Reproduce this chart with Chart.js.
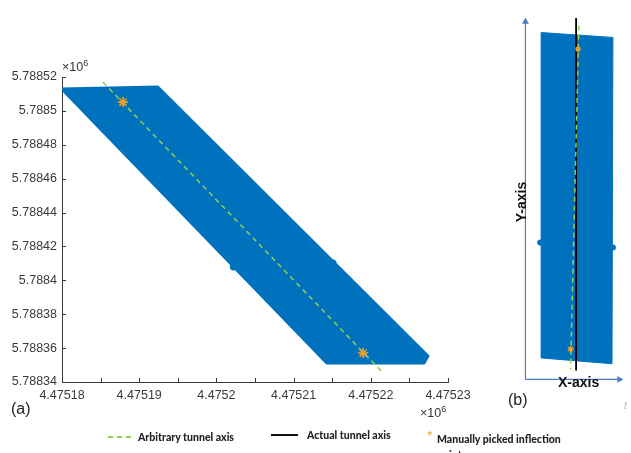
<!DOCTYPE html>
<html>
<head>
<meta charset="utf-8">
<script src="https://cdn.jsdelivr.net/npm/chart.js@4.4.1/dist/chart.umd.min.js"></script>
<style>
html,body{margin:0;padding:0;background:#fff;}
body{width:631px;height:453px;position:relative;overflow:hidden;font-family:"Liberation Sans",Arial,sans-serif;}
canvas{position:absolute;top:0;}
#ca{left:0;}
#cb{left:500px;}
.t{position:absolute;white-space:nowrap;color:#333;}
.lg{position:absolute;white-space:nowrap;font-family:Lato,"Open Sans",sans-serif;font-weight:900;font-size:10.5px;line-height:12px;color:#222;}
</style>
</head>
<body>
<canvas id="ca" width="500" height="453"></canvas>
<canvas id="cb" width="131" height="453"></canvas>

<div class="t" style="left:62px;top:60px;font-size:12.5px;line-height:14px;">×10<span style="font-size:9px;position:relative;top:-5px;">6</span></div>
<div class="t" style="left:420px;top:406px;font-size:12.5px;line-height:14px;">×10<span style="font-size:9px;position:relative;top:-5px;">6</span></div>
<div class="t" style="left:11px;top:400px;font-size:16px;line-height:17px;color:#222;">(a)</div>
<div class="t" style="left:508px;top:391px;font-size:16px;line-height:17px;color:#222;">(b)</div>
<div class="t" style="left:558px;top:375px;font-size:14px;line-height:15px;font-weight:bold;color:#111;">X-axis</div>
<div class="t" style="left:496px;top:194px;width:50px;height:16px;text-align:center;font-size:14px;line-height:16px;font-weight:bold;color:#111;transform:rotate(-90deg);transform-origin:50% 50%;">Y-axis</div>
<div class="t" style="left:624px;top:399px;font-size:11px;line-height:12px;font-style:italic;color:#bbb;">t</div>

<div style="position:absolute;left:108px;top:436px;width:25px;height:2px;background:repeating-linear-gradient(90deg,#8fd14f 0 5px,transparent 5px 9px);"></div>
<div class="lg" style="left:138px;top:431px;">Arbitrary tunnel axis</div>
<div style="position:absolute;left:271px;top:434px;width:27px;height:2px;background:#111;"></div>
<div class="lg" style="left:307px;top:429px;">Actual tunnel axis</div>
<div class="lg" style="left:427px;top:430px;color:#f2b01e;font-size:13px;">*</div>
<div class="lg" style="left:437px;top:431px;width:132px;white-space:normal;line-height:16px;">Manually picked inflection points</div>

<script>
// ---------- panel (a) data ----------
const xTicks = [4475180, 4475185, 4475190, 4475195, 4475200, 4475205, 4475210, 4475215, 4475220, 4475225, 4475230];
const xTickLabels = ['4.47518', '', '4.47519', '', '4.4752', '', '4.47521', '', '4.47522', '', '4.47523'];
const yTicks = [5788340, 5788360, 5788380, 5788400, 5788420, 5788440, 5788460, 5788480, 5788500, 5788520];
const yTickLabels = ['5.78834', '5.78836', '5.78838', '5.7884', '5.78842', '5.78844', '5.78846', '5.78848', '5.7885', '5.78852'];

// outline of the dense point cloud (easting, northing)
const cloudX = [4475180.0, 4475192.4, 4475227.4, 4475226.9, 4475214.3, 4475180.0];
const cloudY = [5788512.9, 5788514.1, 5788355.3, 5788351.2, 5788351.2, 5788512.9];
// small outlying bumps on the cloud edges
const bumpX = [4475202.2, 4475215.1];
const bumpY = [5788407.8, 5788410.2];
// arbitrary tunnel axis (dashed)
const axisX = [4475185.3, 4475221.6];
const axisY = [5788517.0, 5788345.3];
// manually picked inflection points
const inflX = [4475187.9, 4475219.0];
const inflY = [5788505.2, 5788357.1];

// ---------- panel (b) data (local frame, origin at axes corner) ----------
const bCloudX = [17, 95, 94, 17, 17];
const bCloudY = [355, 350, 16, 22, 355];
const bBumpX = [16, 95];
const bBumpY = [140, 135];
const bActualX = [55, 55];
const bActualY = [370, 9];
const bArbX = [58, 49];
const bArbY = [362, 10];
const bInflX = [57, 49];
const bInflY = [338, 31];
const bYArrowX = [0, 0];
const bYArrowY = [0, 366];
const bXArrowX = [0, 102];
const bXArrowY = [0, 0];

const BLUE = '#0072bd';
const GREEN = '#8fd14f';
const STAR = '#f0a02a';
const AXC = '#3a3a3a';

const pts = (xs, ys) => xs.map((x, i) => ({x: x, y: ys[i]}));

const insideTicks = {
  id: 'insideTicks',
  afterDraw(chart) {
    const {ctx, scales: {x, y}} = chart;
    ctx.save();
    ctx.strokeStyle = AXC;
    ctx.lineWidth = 1;
    ctx.beginPath();
    x.ticks.forEach(t => {
      const px = Math.round(x.getPixelForValue(t.value)) + 0.5;
      ctx.moveTo(px, y.bottom);
      ctx.lineTo(px, y.bottom - 4);
    });
    y.ticks.forEach(t => {
      const py = Math.round(y.getPixelForValue(t.value)) + 0.5;
      ctx.moveTo(x.left, py);
      ctx.lineTo(x.left + 4, py);
    });
    ctx.stroke();
    ctx.restore();
  }
};

const tickFont = {family: 'Liberation Sans', size: 12.5};

new Chart(document.getElementById('ca'), {
  type: 'scatter',
  data: {
    datasets: [
      {data: pts(cloudX, cloudY), showLine: true, fill: 'shape', backgroundColor: BLUE, borderColor: BLUE,
       borderWidth: 3, borderJoinStyle: 'round', pointRadius: 0, tension: 0, order: 4},
      {data: pts(bumpX, bumpY), pointRadius: 3.5, backgroundColor: BLUE, borderColor: BLUE, borderWidth: 0, order: 3},
      {data: pts(axisX, axisY), showLine: true, borderColor: GREEN, borderWidth: 1.5, borderDash: [5, 4],
       pointRadius: 0, fill: false, order: 2},
      {data: pts(inflX, inflY), pointStyle: 'star', pointRadius: 5, borderColor: STAR, borderWidth: 1.6,
       backgroundColor: STAR, order: 1}
    ]
  },
  options: {
    responsive: false,
    animation: false,
    events: [],
    layout: {padding: {left: 0, right: 52, top: 77, bottom: 41}},
    plugins: {legend: {display: false}, tooltip: {enabled: false}},
    scales: {
      x: {
        type: 'linear', min: 4475180, max: 4475230,
        afterBuildTicks: s => { s.ticks = xTicks.map(v => ({value: v})); },
        afterFit: s => { s.height = 30; },
        ticks: {autoSkip: false, maxRotation: 0, padding: 6, color: AXC, font: tickFont,
                callback: (v, i) => xTickLabels[i]},
        grid: {display: false, drawTicks: false},
        border: {display: true, color: AXC, width: 1}
      },
      y: {
        type: 'linear', min: 5788340, max: 5788520,
        afterBuildTicks: s => { s.ticks = yTicks.map(v => ({value: v})); },
        afterFit: s => { s.width = 62; },
        ticks: {autoSkip: false, padding: 5, color: AXC, font: tickFont,
                callback: (v, i) => yTickLabels[i]},
        grid: {display: false, drawTicks: false},
        border: {display: true, color: AXC, width: 1}
      }
    }
  },
  plugins: [insideTicks]
});

const ARROW = '#4f7bc4';
new Chart(document.getElementById('cb'), {
  type: 'scatter',
  data: {
    datasets: [
      {data: pts(bYArrowX, bYArrowY), showLine: true, borderColor: ARROW, borderWidth: 1.2,
       pointRadius: [0, 4], pointStyle: 'triangle', backgroundColor: ARROW, pointBorderWidth: 0, order: 7},
      {data: pts(bXArrowX, bXArrowY), showLine: true, borderColor: ARROW, borderWidth: 1.2,
       pointRadius: [0, 4], pointStyle: 'triangle', pointRotation: 90, backgroundColor: ARROW, pointBorderWidth: 0, order: 6},
      {data: pts(bCloudX, bCloudY), showLine: true, fill: 'shape', backgroundColor: BLUE, borderColor: BLUE,
       borderWidth: 1, pointRadius: 0, tension: 0, order: 5},
      {data: pts(bBumpX, bBumpY), pointRadius: 3, backgroundColor: BLUE, borderWidth: 0, order: 4},
      {data: pts(bActualX, bActualY), showLine: true, borderColor: '#000', borderWidth: 1.8, pointRadius: 0, order: 3},
      {data: pts(bArbX, bArbY), showLine: true, borderColor: GREEN, borderWidth: 1.5, borderDash: [5, 4],
       pointRadius: 0, order: 2},
      {data: pts(bInflX, bInflY), pointStyle: 'star', pointRadius: 3, borderColor: STAR, borderWidth: 1.2, order: 1}
    ]
  },
  options: {
    responsive: false,
    animation: false,
    events: [],
    layout: {padding: 0},
    plugins: {legend: {display: false}, tooltip: {enabled: false}},
    scales: {
      x: {type: 'linear', min: -22, max: 109, display: false},
      y: {type: 'linear', min: -70, max: 383, display: false}
    }
  }
});
</script>
</body>
</html>
